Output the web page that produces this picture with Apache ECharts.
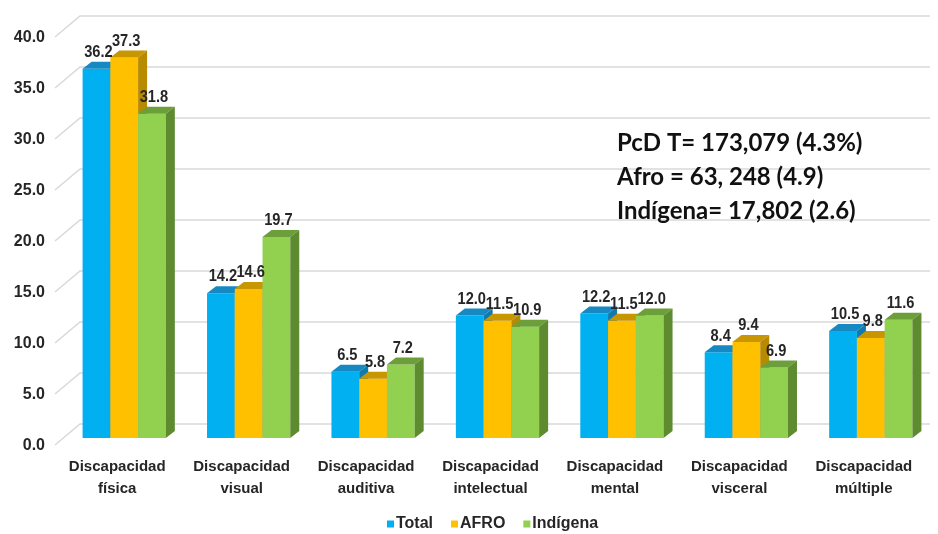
<!DOCTYPE html>
<html><head><meta charset="utf-8">
<script src="https://cdn.jsdelivr.net/npm/echarts@6/dist/echarts.min.js"></script>
<style>html,body{margin:0;padding:0;background:#fff}#c{width:938px;height:534px}</style>
</head><body><div id="c"></div>
<script>
const categories = ['Discapacidad\nfísica','Discapacidad\nvisual','Discapacidad\nauditiva','Discapacidad\nintelectual','Discapacidad\nmental','Discapacidad\nvisceral','Discapacidad\nmúltiple'];
const totalVals = [36.2, 14.2, 6.5, 12.0, 12.2, 8.4, 10.5];
const afroVals = [37.3, 14.6, 5.8, 11.5, 11.5, 9.4, 9.8];
const indigenaVals = [31.8, 19.7, 7.2, 10.9, 12.0, 6.9, 11.6];
const yTicks = [0,5,10,15,20,25,30,35,40];
const seriesNames = ['Total','AFRO','Indígena'];
const annotation = ['PcD T= 173,079 (4.3%)','Afro = 63, 248 (4.9)','Indígena= 17,802 (2.6)'];

const FONT = "'Liberation Sans Narrow','Arial Narrow','Liberation Sans',Arial,sans-serif";
const front = ['#00B0F0','#FFC000','#92D050'];
const topC  = ['#1689C2','#C89600','#6C9E3A'];
const sideC = ['#0F7AAE','#B88A00','#5E8A30'];

const chart = echarts.init(document.getElementById('c'));

function barSeries(k, vals){
  return {
    type:'custom', name:seriesNames[k], z:5,
    itemStyle:{color:front[k]},
    data: vals.map((v,i)=>[i,v]),
    renderItem:function(params, api){
      const ci = api.value(0), v = api.value(1);
      const base = api.coord([ci,0]);
      const top = api.coord([ci,v]);
      const band = api.size([1,0])[0];
      const bw = band*0.223;
      const x0 = base[0] - 1.5*bw + k*bw, x1 = x0 + bw;
      const dx = 9, dy = 7;
      const yt = top[1], yb = base[1];
      return {type:'group', children:[
        {type:'rect', shape:{x:x0, y:yt, width:bw, height:yb-yt}, style:{fill:front[k]}},
        {type:'polygon', shape:{points:[[x0,yt],[x1,yt],[x1+dx,yt-dy],[x0+dx,yt-dy]]}, style:{fill:topC[k]}},
        {type:'polygon', shape:{points:[[x1,yt],[x1+dx,yt-dy],[x1+dx,yb-dy],[x1,yb]]}, style:{fill:sideC[k]}},
        {type:'text', z2:10, x:(x0+x1)/2+2, y:yt-dy-1, scaleX:0.86,
          style:{text:v.toFixed(1), x:0, y:0, align:'center', verticalAlign:'bottom',
          font:"bold 17px "+FONT, fill:'#262626'}}
      ]};
    }
  };
}

chart.setOption({
  backgroundColor:'#ffffff',
  animation:false,
  grid:{left:62, right:5, top:30, bottom:96},
  legend:{
    data:seriesNames.map(n=>({name:n, icon:'rect'})),
    top:511, left:382, itemWidth:7, itemHeight:7, itemGap:18,
    textStyle:{fontFamily:FONT, fontWeight:'bold', fontSize:16, color:'#262626', padding:[0,0,0,-3]}
  },
  xAxis:{
    type:'category', data:categories,
    axisLine:{show:false}, axisTick:{show:false},
    axisLabel:{interval:0, margin:18, lineHeight:22, fontFamily:FONT, fontWeight:'bold', fontSize:15, color:'#262626', padding:[0,14,0,0]}
  },
  yAxis:{
    type:'value', min:0, max:40, interval:5,
    axisLine:{show:false}, axisTick:{show:false}, splitLine:{show:false},
    axisLabel:{margin:17, fontFamily:FONT, fontWeight:'bold', fontSize:16, color:'#262626', verticalAlign:'top', lineHeight:15,
      formatter:v=>v.toFixed(1)}
  },
  graphic:[{
    type:'text', left:617, top:126, z:20,
    style:{text:annotation.join('\n'), font:"bold 24px Lato,'Open Sans',sans-serif", lineHeight:34, fill:'#111'}
  }],
  series:[
    {
      type:'custom', name:'grid', z:1, silent:true,
      data: yTicks.map(t=>[0,t]),
      renderItem:function(params, api){
        const y = api.coord([0, api.value(1)])[1];
        const L = params.coordSys.x;
        return {type:'polyline', shape:{points:[[L-7,y+7],[L+18,y-14],[930,y-14]]},
          style:{stroke:'#d9d9d9', lineWidth:1.5, fill:null}};
      }
    },
    barSeries(0,totalVals), barSeries(1,afroVals), barSeries(2,indigenaVals)
  ]
});
</script></body></html>
